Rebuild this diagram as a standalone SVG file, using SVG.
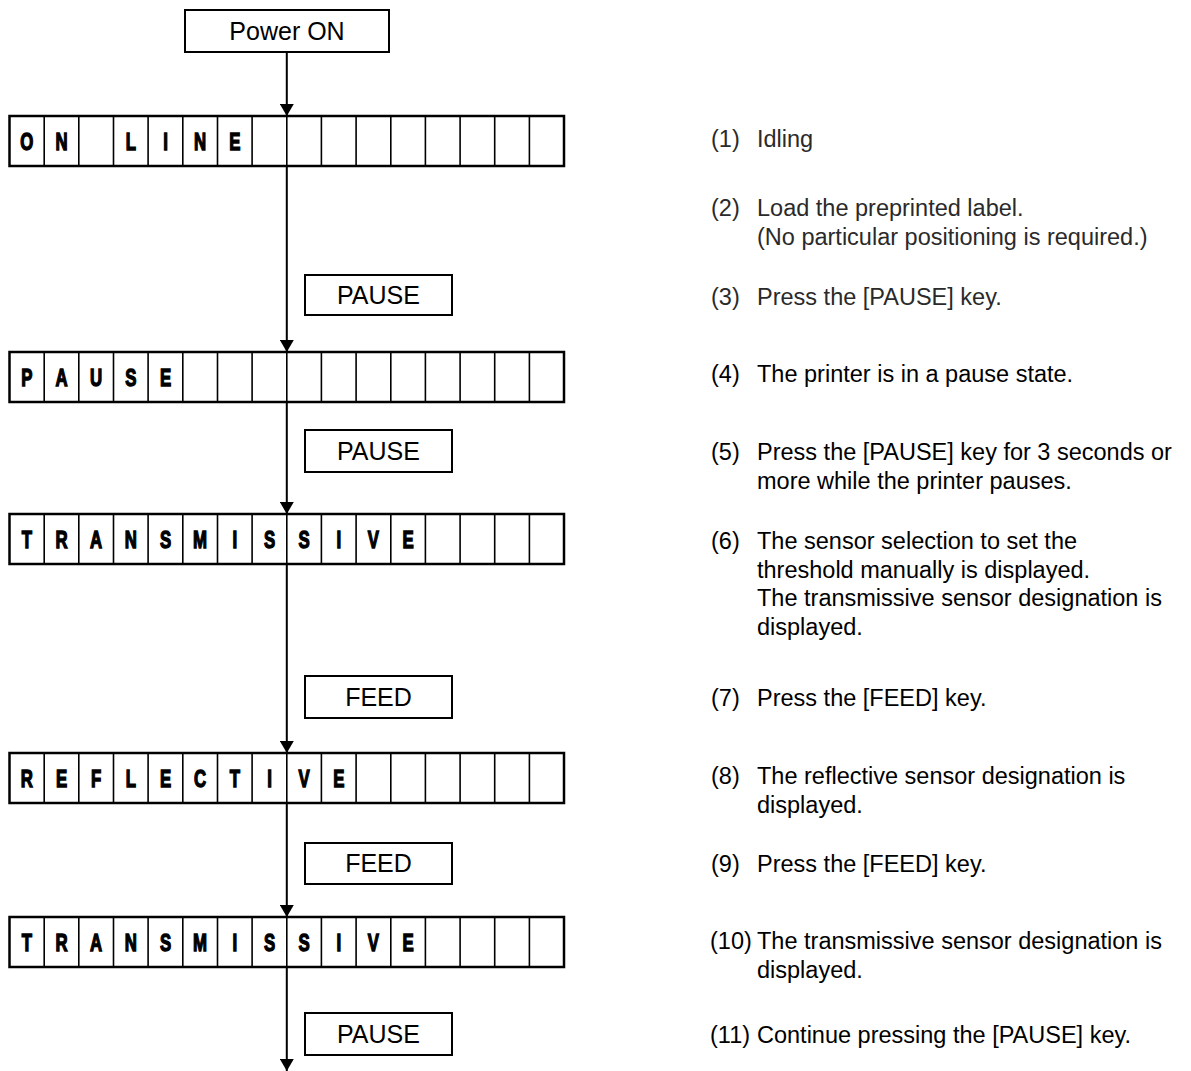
<svg xmlns="http://www.w3.org/2000/svg" width="1191" height="1071" viewBox="0 0 1191 1071">
<style>
.bg{fill:#fff}
.box{fill:#fff;stroke:#000;stroke-width:2}
.lcd{fill:#fff;stroke:#000;stroke-width:2.5}
.div{stroke:#000;stroke-width:1.6}
.btn{font-family:"Liberation Sans",Arial,sans-serif;font-size:25px;text-anchor:middle;fill:#000}
.ch{font-family:"Liberation Sans",Arial,sans-serif;font-weight:bold;font-size:24px;text-anchor:middle;fill:#000;stroke:#000;stroke-width:1.4}
.tx{font-family:"Liberation Sans",Arial,sans-serif;font-size:23.5px;fill:#000}
.lt{fill:#2a2a2a}
.con{fill:none;stroke:#000;stroke-width:2}
</style>
<defs>
<marker id="ahd" markerUnits="userSpaceOnUse" markerWidth="12" markerHeight="14" refX="12" refY="7" orient="auto" viewBox="0 0 12 14">
<path d="M0,0 L12,7 L0,14 Z" fill="#000"/>
</marker>
<g id="cells">
<rect class="lcd" x="9.5" y="0" width="554.5" height="50"/>
<path class="div" d="M44.2 0V50M78.8 0V50M113.5 0V50M148.1 0V50M182.8 0V50M217.5 0V50M252.1 0V50M286.8 0V50M321.4 0V50M356.1 0V50M390.8 0V50M425.4 0V50M460.1 0V50M494.7 0V50M529.4 0V50"/>
</g>
</defs>
<rect class="bg" x="0" y="0" width="1191" height="1071"/>

<g id="connectors">
<path class="con" d="M286.8 52V116" marker-end="url(#ahd)"/>
<path class="con" d="M286.8 165V352" marker-end="url(#ahd)"/>
<path class="con" d="M286.8 402V514" marker-end="url(#ahd)"/>
<path class="con" d="M286.8 564V753" marker-end="url(#ahd)"/>
<path class="con" d="M286.8 803V917" marker-end="url(#ahd)"/>
<path class="con" d="M286.8 967V1071" marker-end="url(#ahd)"/>
</g>

<g id="power-on">
<rect class="box" x="185" y="10" width="204" height="42"/>
<text class="btn" x="287" y="40">Power ON</text>
</g>

<g id="lcd-online">
<use href="#cells" y="116"/>
<g class="ch">
<text transform="translate(26.8 150) scale(0.7 1)">O</text>
<text transform="translate(61.5 150) scale(0.7 1)">N</text>
<text transform="translate(130.8 150) scale(0.7 1)">L</text>
<text transform="translate(165.5 150) scale(0.7 1)">I</text>
<text transform="translate(200.1 150) scale(0.7 1)">N</text>
<text transform="translate(234.8 150) scale(0.7 1)">E</text>
</g>
</g>

<g id="key-pause-1">
<rect class="box" x="305" y="275" width="147" height="40"/>
<text class="btn" x="378.5" y="304">PAUSE</text>
</g>

<g id="lcd-pause">
<use href="#cells" y="352"/>
<g class="ch">
<text transform="translate(26.8 386) scale(0.7 1)">P</text>
<text transform="translate(61.5 386) scale(0.7 1)">A</text>
<text transform="translate(96.1 386) scale(0.7 1)">U</text>
<text transform="translate(130.8 386) scale(0.7 1)">S</text>
<text transform="translate(165.5 386) scale(0.7 1)">E</text>
</g>
</g>

<g id="key-pause-2">
<rect class="box" x="305" y="430" width="147" height="42"/>
<text class="btn" x="378.5" y="460">PAUSE</text>
</g>

<g id="lcd-transmissive-1">
<use href="#cells" y="514"/>
<g class="ch">
<text transform="translate(26.8 548) scale(0.7 1)">T</text>
<text transform="translate(61.5 548) scale(0.7 1)">R</text>
<text transform="translate(96.1 548) scale(0.7 1)">A</text>
<text transform="translate(130.8 548) scale(0.7 1)">N</text>
<text transform="translate(165.5 548) scale(0.7 1)">S</text>
<text transform="translate(200.1 548) scale(0.7 1)">M</text>
<text transform="translate(234.8 548) scale(0.7 1)">I</text>
<text transform="translate(269.5 548) scale(0.7 1)">S</text>
<text transform="translate(304.1 548) scale(0.7 1)">S</text>
<text transform="translate(338.8 548) scale(0.7 1)">I</text>
<text transform="translate(373.4 548) scale(0.7 1)">V</text>
<text transform="translate(408.1 548) scale(0.7 1)">E</text>
</g>
</g>

<g id="key-feed-1">
<rect class="box" x="305" y="676" width="147" height="42"/>
<text class="btn" x="378.5" y="706">FEED</text>
</g>

<g id="lcd-reflective">
<use href="#cells" y="753"/>
<g class="ch">
<text transform="translate(26.8 787) scale(0.7 1)">R</text>
<text transform="translate(61.5 787) scale(0.7 1)">E</text>
<text transform="translate(96.1 787) scale(0.7 1)">F</text>
<text transform="translate(130.8 787) scale(0.7 1)">L</text>
<text transform="translate(165.5 787) scale(0.7 1)">E</text>
<text transform="translate(200.1 787) scale(0.7 1)">C</text>
<text transform="translate(234.8 787) scale(0.7 1)">T</text>
<text transform="translate(269.5 787) scale(0.7 1)">I</text>
<text transform="translate(304.1 787) scale(0.7 1)">V</text>
<text transform="translate(338.8 787) scale(0.7 1)">E</text>
</g>
</g>

<g id="key-feed-2">
<rect class="box" x="305" y="843" width="147" height="41"/>
<text class="btn" x="378.5" y="872">FEED</text>
</g>

<g id="lcd-transmissive-2">
<use href="#cells" y="917"/>
<g class="ch">
<text transform="translate(26.8 951) scale(0.7 1)">T</text>
<text transform="translate(61.5 951) scale(0.7 1)">R</text>
<text transform="translate(96.1 951) scale(0.7 1)">A</text>
<text transform="translate(130.8 951) scale(0.7 1)">N</text>
<text transform="translate(165.5 951) scale(0.7 1)">S</text>
<text transform="translate(200.1 951) scale(0.7 1)">M</text>
<text transform="translate(234.8 951) scale(0.7 1)">I</text>
<text transform="translate(269.5 951) scale(0.7 1)">S</text>
<text transform="translate(304.1 951) scale(0.7 1)">S</text>
<text transform="translate(338.8 951) scale(0.7 1)">I</text>
<text transform="translate(373.4 951) scale(0.7 1)">V</text>
<text transform="translate(408.1 951) scale(0.7 1)">E</text>
</g>
</g>

<g id="key-pause-3">
<rect class="box" x="305" y="1013" width="147" height="42"/>
<text class="btn" x="378.5" y="1043">PAUSE</text>
</g>

<g id="steps" class="tx">
<text class="lt" x="711" y="147">(1)</text><text class="lt" x="757" y="147">Idling</text>
<text class="lt" x="711" y="216">(2)</text><text class="lt" x="757" y="216">Load the preprinted label.</text>
<text class="lt" x="757" y="245">(No particular positioning is required.)</text>
<text class="lt" x="711" y="305">(3)</text><text class="lt" x="757" y="305">Press the [PAUSE] key.</text>
<text x="711" y="382">(4)</text><text x="757" y="382">The printer is in a pause state.</text>
<text x="711" y="460">(5)</text><text x="757" y="460">Press the [PAUSE] key for 3 seconds or</text>
<text x="757" y="489">more while the printer pauses.</text>
<text x="711" y="549">(6)</text><text x="757" y="549">The sensor selection to set the</text>
<text x="757" y="578">threshold manually is displayed.</text>
<text x="757" y="606">The transmissive sensor designation is</text>
<text x="757" y="635">displayed.</text>
<text x="711" y="706">(7)</text><text x="757" y="706">Press the [FEED] key.</text>
<text x="711" y="784">(8)</text><text x="757" y="784">The reflective sensor designation is</text>
<text x="757" y="813">displayed.</text>
<text x="711" y="872">(9)</text><text x="757" y="872">Press the [FEED] key.</text>
<text x="710" y="949">(10)</text><text x="757" y="949">The transmissive sensor designation is</text>
<text x="757" y="978">displayed.</text>
<text x="710" y="1043">(11)</text><text x="757" y="1043">Continue pressing the [PAUSE] key.</text>
</g>
</svg>
